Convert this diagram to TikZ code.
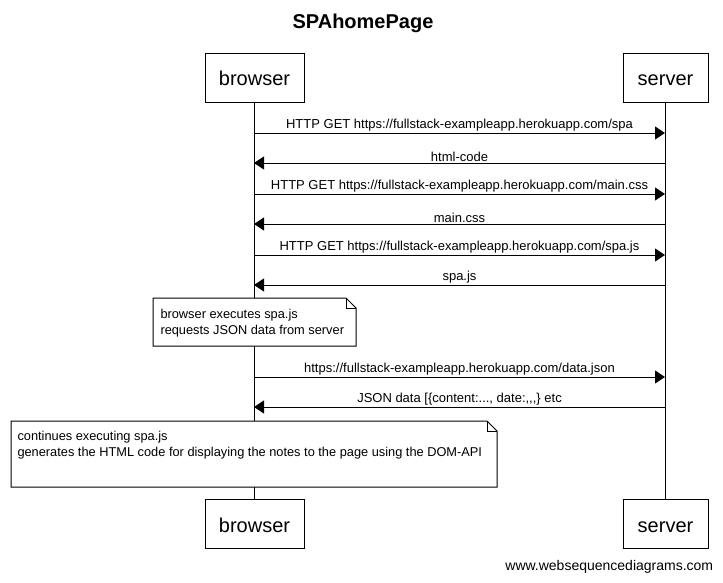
\documentclass[tikz,border=0pt]{standalone}
\usepackage{fontspec}
\setmainfont{Liberation Sans}
\usepackage{tikz}
\usetikzlibrary{positioning, arrows.meta, calc}

\begin{document}
\begin{tikzpicture}[
  x=1pt, y=-1pt, line width=1pt,
  actor/.style={draw, minimum width=99pt, minimum height=49pt, font=\fontsize{20}{24}\selectfont, inner sep=0pt, text height=16.5pt, text depth=0pt},
  msg/.style={-{Triangle[length=10pt, width=13pt]}},
  lbl/.style={font=\fontsize{13}{15}\selectfont, above=0pt, inner sep=1pt},
  note/.style={font=\fontsize{12.8}{16}\selectfont, align=left, anchor=north west, inner sep=0pt},
]
  \useasboundingbox (0,0) rectangle (723,582);
  \node[font=\bfseries\fontsize{20}{22}\selectfont] (title) at (363,23) {SPAhomePage};

  % participants
  \node[actor] (browserTop) at (254.5,77.5) {browser};
  \node[actor, minimum width=85pt] (serverTop) at (665.5,77.5) {server};
  \node[actor] (browserBot) at (254.5,524) {browser};
  \node[actor, minimum width=85pt] (serverBot) at (665.5,524) {server};
  \draw (browserTop) -- (browserBot);
  \draw (serverTop) -- (serverBot);

  % messages
  \foreach \i/\y in {1/133, 2/163, 3/194, 4/224, 5/255, 6/285, 7/377, 8/407} {
    \coordinate (b\i) at (254,\y);
    \coordinate (s\i) at (665,\y);
  }
  \draw[msg] (b1) -- node[lbl] {HTTP GET https://fullstack-exampleapp.herokuapp.com/spa} (s1);
  \draw[msg] (s2) -- node[lbl] {html-code} (b2);
  \draw[msg] (b3) -- node[lbl] {HTTP GET https://fullstack-exampleapp.herokuapp.com/main.css} (s3);
  \draw[msg] (s4) -- node[lbl] {main.css} (b4);
  \draw[msg] (b5) -- node[lbl] {HTTP GET https://fullstack-exampleapp.herokuapp.com/spa.js} (s5);
  \draw[msg] (s6) -- node[lbl] {spa.js} (b6);
  \draw[msg] (b7) -- node[lbl] {https://fullstack-exampleapp.herokuapp.com/data.json} (s7);
  \draw[msg] (s8) -- node[lbl] {JSON data [\{content:..., date:,{},{},\} etc} (b8);

  % notes
  \coordinate (n1a) at (153,298); \coordinate (n1b) at (356,346);
  \coordinate (n2a) at (11,421);  \coordinate (n2b) at (497,487);
  \foreach \n in {n1, n2} {
    \fill[white] (\n a) rectangle (\n b);
    \draw (\n a) -- ($(\n a -| \n b)+(-10,0)$) -- ($(\n a -| \n b)+(0,10)$) |- (\n b -| \n a) -- cycle;
    \draw ($(\n a -| \n b)+(-10,0)$) |- ($(\n a -| \n b)+(0,10)$);
  }
  \node[note] (note1) at (160,309) {browser executes spa.js\\requests JSON data from server};
  \node[note] (note2) at (17,431) {continues executing spa.js\\generates the HTML code for displaying the notes to the page using the DOM-API};

  \node[font=\fontsize{14}{16}\selectfont, anchor=east] (footer) at (717,567) {www.websequencediagrams.com};
\end{tikzpicture}
\end{document}
